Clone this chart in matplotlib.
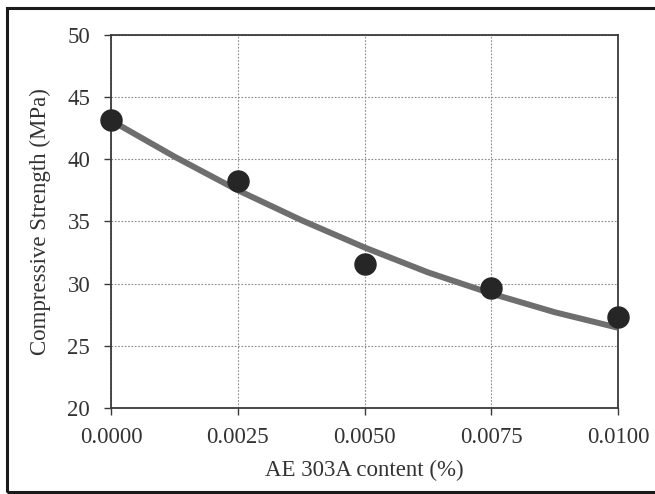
import matplotlib
matplotlib.use("Agg")
from matplotlib import pyplot as plt
from matplotlib.patches import Rectangle

# measured points
content = [0.0, 0.0025, 0.005, 0.0075, 0.01]
strength = [43.1, 38.2, 31.55, 29.65, 27.35]

# trendline
trend_x = [0.0, 0.00125, 0.0025, 0.00375, 0.005, 0.00625, 0.0075, 0.00875, 0.01]
trend_y = [43.1, 40.2, 37.5, 35.1, 32.9, 30.9, 29.2, 27.7, 26.45]

xticks = [0.0, 0.0025, 0.005, 0.0075, 0.01]
xticklabels = ['0.0000', '0.0025', '0.0050', '0.0075', '0.0100']
yticks = [20, 25, 30, 35, 40, 45, 50]

plt.rcParams['font.family'] = ['Liberation Serif', 'DejaVu Serif']
txt = '#333333'

fig = plt.figure(figsize=(6.55, 4.94), dpi=100)
ax = fig.add_axes([0.1695, 0.174, 0.774, 0.756])

ax.plot(trend_x, trend_y, color='#6e6e6e', lw=4.3, solid_capstyle='butt', zorder=3)
ax.scatter(content, strength, s=230, color='#262626', zorder=4, clip_on=False)

ax.set_xlim(0, 0.01)
ax.set_ylim(20, 50)
ax.set_xticks(xticks)
ax.set_xticklabels(xticklabels)
ax.set_yticks(yticks)
ax.grid(True, color='#8a8a8a', linestyle=(0, (1.5, 1.5)), lw=0.8)
ax.set_axisbelow(True)

for s in ax.spines.values():
    s.set_color('#3a3a3a')
    s.set_linewidth(1.3)
ax.tick_params(direction='out', length=5, width=1, color='#3a3a3a',
               labelsize=16.5, labelcolor=txt)
ax.tick_params(axis='y', pad=10)
ax.tick_params(axis='x', pad=9)

ax.set_xlabel('AE 303A content (%)', fontsize=16.5, color=txt, labelpad=8)
ax.set_ylabel('Compressive Strength (MPa)', fontsize=16.5, color=txt, labelpad=12)

# outer frame of the figure
fig.patches.append(Rectangle((7 / 655, 2 / 494), 1.2, 484 / 494, transform=fig.transFigure,
                             fill=False, edgecolor='#1a1a1a', lw=2.2, clip_on=True))

fig.savefig('out.png', dpi=100)
